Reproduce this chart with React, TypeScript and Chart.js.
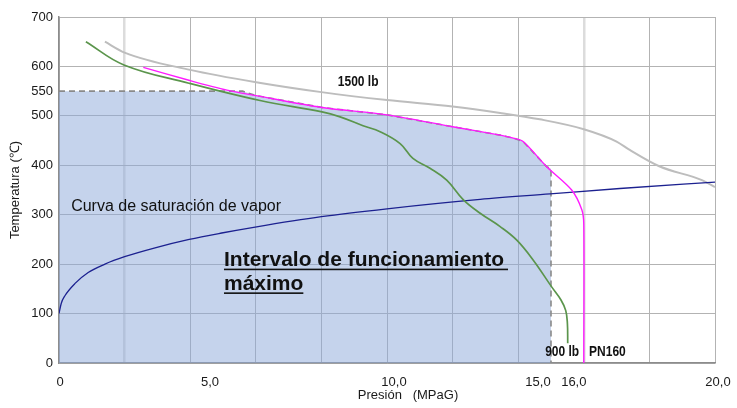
import { useEffect, useRef } from "react";
import { Chart, registerables } from "chart.js";

Chart.register(...registerables);

// Axis ticks
const yTickValues = [0, 100, 200, 300, 400, 500, 550, 600, 700];
const xGridValues = [0, 2, 4, 6, 8, 10, 12, 14, 16, 18, 20];
const xLabelValues = [0, 5, 10, 15, 16, 20];
const xLabelTexts = ["0", "5,0", "10,0", "15,0", "16,0", "20,0"];

// 1500 lb curve (pressure MPaG, temperature °C)
const p1500 = [1.4, 2.0, 4.0, 6.1, 8.0, 10, 12, 13.45, 14.66, 16, 17, 17.4, 18.3, 19.6, 20];
const t1500 = [650, 628, 593, 567, 548, 532, 519, 506, 493, 473, 448, 431, 398, 370, 356];

// PN160 curve
const pPN160 = [2.57, 3.96, 5.12, 6.0, 8.02, 10, 12, 13.45, 13.85, 14.15, 14.87, 15.63, 15.94, 16.0, 16.0];
const tPN160 = [598, 572, 552, 541, 517, 502, 478, 461, 455, 448, 397, 350, 310, 280, 0];

// 900 lb curve
const p900 = [0.82, 1.98, 3.96, 6.13, 8.02, 8.57, 9.27, 9.79, 10.4, 10.79, 11.31, 11.82, 12.33, 12.84, 13.45, 13.95, 14.46, 15.02, 15.3, 15.45, 15.5, 15.51];
const t900 = [650, 603, 566, 531, 508, 498, 480, 468, 444, 414, 394, 370, 330, 303, 276, 249, 208, 154, 128, 106, 80, 40];

// Steam saturation curve
const pSat = [0, 0.07, 0.18, 0.49, 0.89, 1.4, 2.0, 2.93, 3.97, 4.96, 5.98, 8.0, 10, 12.84, 14.97, 17.1, 20];
const tSat = [100, 121, 136, 161, 183, 200, 215, 233, 250, 263, 275, 296, 312, 331, 342, 353, 366];

// Maximum operating range (shaded area)
const pRange = [0, 5.6, 6.0, 8.02, 10, 12, 13.45, 13.85, 14.15, 14.87, 15, 15];
const tRange = [550, 550, 541, 517, 502, 478, 461, 455, 448, 397, 393, 0];

const xLabelShift = [1, -13, 7, -13, -10, 3];

const FONT = '"Liberation Sans", Arial, Helvetica, sans-serif';

const pts = (xs: number[], ys: number[]) => xs.map((x, i) => ({ x, y: ys[i] }));

const drawNarrow = (ctx: CanvasRenderingContext2D, text: string, cx: number, cy: number) => {
  ctx.save();
  ctx.translate(cx, cy);
  ctx.scale(0.8, 1);
  ctx.fillText(text, 0, 0);
  ctx.restore();
};

const annotPlugin = {
  id: "annot",
  afterDraw(chart: any) {
    const { ctx, chartArea } = chart;
    const x = chart.scales.x;
    const y = chart.scales.y;
    ctx.save();
    ctx.fillStyle = "#1a1a1a";
    ctx.font = `13px ${FONT}`;
    ctx.textAlign = "center";
    ctx.textBaseline = "middle";
    xLabelValues.forEach((v, i) => {
      ctx.fillText(xLabelTexts[i], x.getPixelForValue(v) + xLabelShift[i], chartArea.bottom + 19);
    });
    ctx.fillText("Presión   (MPaG)", 408, 395);
    ctx.save();
    ctx.translate(15.5, (chartArea.top + chartArea.bottom) / 2);
    ctx.rotate(-Math.PI / 2);
    ctx.fillText("Temperatura (℃)", 0, 0);
    ctx.restore();

    // curve labels
    ctx.fillStyle = "#111";
    ctx.font = `bold 15px ${FONT}`;
    drawNarrow(ctx, "1500 lb", x.getPixelForValue(9.12), y.getPixelForValue(568));
    drawNarrow(ctx, "900 lb", x.getPixelForValue(15.34), y.getPixelForValue(22));
    drawNarrow(ctx, "PN160", x.getPixelForValue(16.72), y.getPixelForValue(22));

    ctx.textAlign = "left";
    ctx.font = `16px ${FONT}`;
    ctx.fillText("Curva de saturación de vapor", x.getPixelForValue(0.37), y.getPixelForValue(316));

    ctx.font = `bold 21px ${FONT}`;
    ctx.textBaseline = "alphabetic";
    const lx = x.getPixelForValue(5.03);
    const l1 = "Intervalo de funcionamiento";
    const l2 = "máximo";
    const b1 = y.getPixelForValue(196);
    const b2 = y.getPixelForValue(148);
    ctx.fillText(l1, lx, b1);
    ctx.fillText(l2, lx, b2);
    const w1 = ctx.measureText(l1).width;
    const w2 = ctx.measureText(l2).width;
    ctx.fillRect(lx, b1 + 2.5, w1 + 4, 1.6);
    ctx.fillRect(lx, b2 + 2.5, w2, 1.6);
    ctx.restore();
  },
};

export default function App() {
  const ref = useRef<HTMLCanvasElement | null>(null);
  useEffect(() => {
    if (!ref.current) return;
    const chart = new Chart(ref.current, {
      type: "line",
      data: {
        datasets: [
          {
            label: "Intervalo de funcionamiento máximo",
            data: pts(pRange, tRange),
            borderColor: "#8a8a8a",
            borderWidth: 1.6,
            borderDash: [6, 4],
            backgroundColor: "rgba(139,167,217,0.5)",
            fill: "origin",
            pointRadius: 0,
            tension: 0,
            order: 10,
          },
          {
            label: "1500 lb",
            data: pts(p1500, t1500),
            borderColor: "#bdbdbd",
            borderWidth: 2,
            pointRadius: 0,
            cubicInterpolationMode: "monotone",
            fill: false,
            order: 3,
          },
          {
            label: "Curva de saturación de vapor",
            data: pts(pSat, tSat),
            borderColor: "#1c2190",
            borderWidth: 1.3,
            pointRadius: 0,
            cubicInterpolationMode: "monotone",
            fill: false,
            order: 2,
          },
          {
            label: "900 lb",
            data: pts(p900, t900),
            borderColor: "#5b954c",
            borderWidth: 1.7,
            pointRadius: 0,
            tension: 0.4,
            fill: false,
            order: 1,
          },
          {
            label: "PN160",
            data: pts(pPN160, tPN160),
            borderColor: "#ff1aff",
            borderWidth: 1.4,
            pointRadius: 0,
            tension: 0.3,
            fill: false,
            order: 0,
          },
        ],
      },
      options: {
        animation: false,
        responsive: true,
        maintainAspectRatio: false,
        layout: { padding: { left: 0, top: 17, right: 22, bottom: 0 } },
        plugins: { legend: { display: false }, tooltip: { enabled: false } },
        scales: {
          x: {
            type: "linear",
            min: 0,
            max: 20,
            afterBuildTicks: (s: any) => {
              s.ticks = xGridValues.map((v) => ({ value: v }));
            },
            afterFit: (s: any) => {
              s.height = 45;
            },
            ticks: { display: false },
            grid: {
              drawTicks: false,
              color: (c: any) => (c.tick && (c.tick.value === 2 || c.tick.value === 16) ? "#dcdcdc" : "#b3b3b3"),
              lineWidth: (c: any) => (c.tick && (c.tick.value === 2 || c.tick.value === 16) ? 2.5 : 1),
            },
            border: { color: "#8c8c8c", width: 1.5 },
          },
          y: {
            type: "linear",
            min: 0,
            max: 700,
            afterBuildTicks: (s: any) => {
              s.ticks = yTickValues.map((v) => ({ value: v }));
            },
            afterFit: (s: any) => {
              s.width = 59;
            },
            ticks: {
              padding: 6,
              color: "#1a1a1a",
              font: { family: FONT, size: 13 },
              callback: (v: any) => String(v),
            },
            grid: {
              drawTicks: false,
              color: (c: any) => (c.tick && c.tick.value === 550 ? "rgba(0,0,0,0)" : "#b3b3b3"),
            },
            border: { color: "#8c8c8c", width: 1.5 },
          },
        },
      },
      plugins: [annotPlugin],
    } as any);
    return () => chart.destroy();
  }, []);
  return (
    <div style={{ position: "fixed", left: 0, top: 0, width: 737, height: 408, background: "#fff" }}>
      <canvas ref={ref} />
    </div>
  );
}
